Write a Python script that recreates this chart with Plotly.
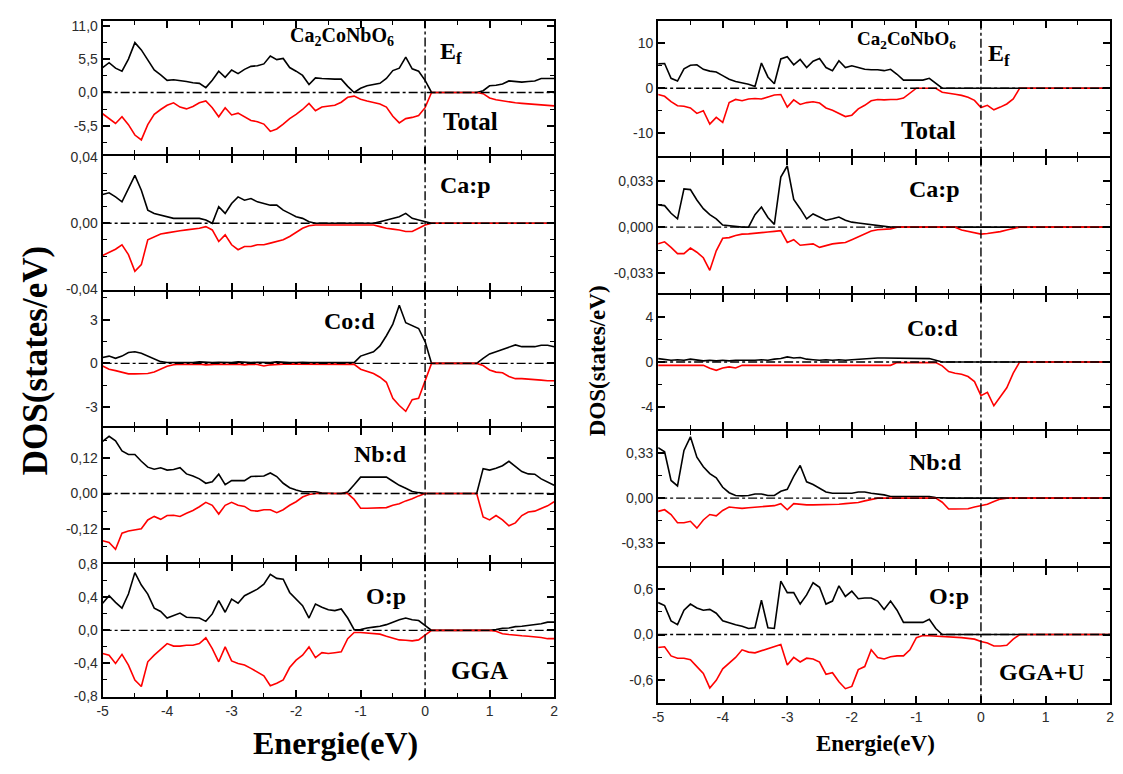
import plotly.graph_objects as go

W, H = 1123, 774

# Energy grid (eV) shared by all projected DOS curves
energy = [round(-5 + 0.1 * i, 1) for i in range(71)]

# ---------------- GGA ----------------
gga_total_up = [4.1, 4.9, 4.0, 3.5, 5.5, 8.2, 7.0, 5.4, 3.7, 2.9,
                2.0, 2.1, 2.0, 1.8, 1.6, 1.5, 0.8, 2.0, 3.5, 2.5,
                3.7, 3.1, 3.8, 4.3, 4.4, 4.7, 6.0, 5.4, 5.6, 4.1,
                3.5, 2.8, 1.3, 2.4, 2.3, 2.2, 2.2, 2.2, 1.0, 0.0,
                0.7, 1.1, 1.3, 1.5, 2.3, 3.6, 4.0, 5.8, 3.9, 3.5,
                2.0, 0, 0, 0, 0, 0, 0, 0, 0, 0.3,
                1.1, 1.2, 1.4, 1.9, 1.8, 1.7, 1.8, 1.9, 2.3, 2.3,
                2.3]
gga_total_dn = [-3.5, -4.3, -5.1, -4.0, -5.3, -7.0, -7.8, -5.3, -3.6, -2.8,
                -2.1, -1.7, -2.4, -2.7, -2.3, -1.7, -1.4, -2.5, -4.0, -2.5,
                -3.7, -3.4, -4.0, -4.6, -4.8, -5.2, -6.4, -6.0, -5.2, -4.3,
                -3.6, -2.8, -1.8, -3.0, -2.4, -2.3, -2.1, -1.6, -0.8, -0.6,
                -1.1, -1.4, -1.6, -1.9, -2.4, -3.9, -5.0, -4.3, -4.1, -3.8,
                -2.5, 0, 0, 0, 0, 0, 0, 0, 0, -0.2,
                -0.9, -1.2, -1.4, -1.6, -1.7, -1.8, -1.9, -2.0, -2.1, -2.1,
                -2.2]
gga_cap_up = [0.0175, 0.0185, 0.016, 0.013, 0.021, 0.029, 0.020, 0.008, 0.006, 0.005,
              0.004, 0.003, 0.003, 0.003, 0.003, 0.003, 0.002, 0.0, 0.010, 0.006,
              0.012, 0.016, 0.014, 0.015, 0.013, 0.012, 0.011, 0.011, 0.008, 0.006,
              0.004, 0.003, 0.001, 0, 0, 0, 0, 0, 0, 0,
              0, 0, 0, 0.001, 0.002, 0.003, 0.004, 0.006, 0.003, 0.002,
              0.001, 0, 0, 0, 0, 0, 0, 0, 0, 0,
              0, 0, 0, 0, 0, 0, 0, 0, 0, 0,
              0]
gga_cap_dn = [-0.0195, -0.0175, -0.0157, -0.013, -0.019, -0.029, -0.025, -0.010, -0.008, -0.0065,
              -0.0058, -0.005, -0.0045, -0.004, -0.0035, -0.003, -0.002, -0.004, -0.011, -0.007,
              -0.013, -0.016, -0.014, -0.014, -0.013, -0.013, -0.012, -0.011, -0.010, -0.008,
              -0.0055, -0.003, -0.0015, -0.001, -0.001, -0.001, -0.001, -0.001, -0.001, -0.001,
              -0.001, -0.001, -0.001, -0.002, -0.003, -0.0035, -0.004, -0.005, -0.005, -0.003,
              -0.001, 0, 0, 0, 0, 0, 0, 0, 0, 0,
              0, 0, 0, 0, 0, 0, 0, 0, 0, 0,
              0]
gga_cod_up = [0.4, 0.5, 0.35, 0.5, 0.75, 0.8, 0.7, 0.5, 0.3, 0.12,
              0.06, 0.05, 0.08, 0.05, 0.05, 0.1, 0.05, 0.05, 0.08, 0.05,
              0.05, 0.1, 0.05, 0.05, 0.08, 0.05, 0.05, 0.1, 0.05, 0.05,
              0.05, 0.08, 0.05, 0.05, 0.05, 0.08, 0.05, 0.05, 0.05, 0.05,
              0.5, 0.65, 0.8, 1.2, 1.9, 2.7, 4.0, 2.8, 2.6, 2.4,
              1.5, 0, 0, 0, 0, 0, 0, 0, 0, 0.35,
              0.65, 0.8, 0.95, 1.15, 1.27, 1.15, 1.15, 1.15, 1.25, 1.25,
              1.15]
gga_cod_dn = [-0.18, -0.4, -0.5, -0.6, -0.72, -0.72, -0.7, -0.7, -0.6, -0.4,
              -0.2, -0.1, -0.05, -0.08, -0.05, -0.05, -0.1, -0.05, -0.05, -0.08,
              -0.05, -0.05, -0.1, -0.05, -0.08, -0.18, -0.1, -0.05, -0.05, -0.05,
              -0.05, -0.08, -0.05, -0.05, -0.05, -0.05, -0.05, -0.05, -0.05, -0.07,
              -0.4, -0.55, -0.7, -0.95, -1.3, -2.4, -2.9, -3.3, -2.5, -2.4,
              -1.2, 0, 0, 0, 0, 0, 0, 0, 0, -0.15,
              -0.45, -0.6, -0.65, -0.9, -1.05, -1.05, -1.07, -1.1, -1.15, -1.2,
              -1.2]
gga_nbd_up = [0.178, 0.195, 0.18, 0.145, 0.133, 0.133, 0.11, 0.09, 0.083, 0.088,
              0.08, 0.082, 0.088, 0.067, 0.06, 0.05, 0.035, 0.04, 0.066, 0.03,
              0.044, 0.044, 0.044, 0.058, 0.058, 0.06, 0.07, 0.058, 0.035, 0.02,
              0.012, 0.006, 0.006, 0.006, 0.002, 0, 0, 0, 0.005, 0.03,
              0.056, 0.056, 0.056, 0.056, 0.056, 0.042, 0.028, 0.018, 0.007, 0.003,
              0, 0, 0, 0, 0, 0, 0, 0, 0, 0.085,
              0.08, 0.086, 0.095, 0.11, 0.094, 0.075, 0.067, 0.066, 0.05, 0.04,
              0.028]
gga_nbd_dn = [-0.161, -0.167, -0.19, -0.135, -0.128, -0.125, -0.12, -0.09, -0.078, -0.088,
              -0.075, -0.074, -0.078, -0.067, -0.058, -0.045, -0.03, -0.04, -0.07, -0.04,
              -0.03, -0.04, -0.044, -0.058, -0.06, -0.055, -0.055, -0.065, -0.055, -0.04,
              -0.028, -0.012, -0.003, 0, 0, 0, 0, 0, 0, -0.02,
              -0.05, -0.05, -0.05, -0.05, -0.048, -0.04, -0.035, -0.025, -0.018, -0.008,
              0, 0, 0, 0, 0, 0, 0, 0, 0, -0.08,
              -0.09, -0.075, -0.09, -0.11, -0.1, -0.075, -0.063, -0.06, -0.05, -0.042,
              -0.028]
gga_op_up = [0.33, 0.42, 0.34, 0.27, 0.44, 0.70, 0.55, 0.44, 0.27, 0.23,
             0.15, 0.18, 0.21, 0.16, 0.155, 0.15, 0.11, 0.2, 0.36, 0.22,
             0.38, 0.33, 0.42, 0.46, 0.50, 0.56, 0.68, 0.63, 0.62, 0.46,
             0.38, 0.3, 0.15, 0.32, 0.28, 0.25, 0.24, 0.26, 0.15, 0.008,
             0.01, 0.03, 0.04, 0.05, 0.07, 0.1, 0.13, 0.15, 0.13, 0.12,
             0.06, 0, 0, 0, 0, 0, 0, 0, 0, 0,
             0, 0.01, 0.027, 0.03, 0.046, 0.05, 0.06, 0.065, 0.08, 0.1,
             0.1]
gga_op_dn = [-0.28, -0.3, -0.4, -0.29, -0.42, -0.6, -0.68, -0.38, -0.3, -0.23,
             -0.16, -0.19, -0.19, -0.18, -0.18, -0.16, -0.09, -0.22, -0.38, -0.2,
             -0.37, -0.4, -0.42, -0.46, -0.5, -0.55, -0.67, -0.64, -0.6, -0.45,
             -0.36, -0.3, -0.2, -0.33, -0.27, -0.28, -0.27, -0.26, -0.1, -0.025,
             -0.025, -0.03, -0.035, -0.045, -0.07, -0.09, -0.115, -0.12, -0.127, -0.115,
             -0.06, 0, 0, 0, 0, 0, 0, 0, 0, 0,
             0, -0.01, -0.04, -0.05, -0.06, -0.065, -0.07, -0.077, -0.085, -0.1,
             -0.1]

# ---------------- GGA+U ----------------
ggau_total_up = [5.4, 5.5, 2.2, 1.6, 4.3, 5.1, 5.2, 4.2, 3.8, 3.6,
                 2.8, 2.0, 1.5, 1.2, 0.9, 0.4, 5.6, 2.5, 1.0, 6.5,
                 7.0, 5.2, 6.4, 4.6, 6.0, 6.6, 4.6, 3.9, 6.1, 4.6,
                 5.0, 4.6, 4.2, 4.1, 4.1, 3.9, 4.2, 3.1, 1.8, 1.8,
                 1.8, 1.8, 2.2, 1.2, 0, 0, 0, 0, 0, 0,
                 0, 0, 0, 0, 0, 0, 0, 0, 0, 0,
                 0, 0, 0, 0, 0, 0, 0, 0, 0, 0,
                 0]
ggau_total_dn = [-1.4, -1.8, -3.0, -3.9, -4.0, -4.4, -5.6, -5.0, -8.0, -6.5,
                 -7.6, -3.2, -2.5, -2.8, -2.4, -2.3, -2.4, -2.0, -1.5, -1.4,
                 -4.2, -2.6, -3.6, -3.2, -3.0, -3.3, -4.4, -4.9, -5.6, -6.3,
                 -6.0, -4.6, -3.8, -2.8, -2.5, -2.6, -2.5, -2.5, -2.2, -1.2,
                 0, 0, 0, 0, -0.9, -1.2, -1.35, -1.6, -2.0, -2.7,
                 -4.3, -3.8, -4.8, -4.2, -3.5, -2.4, 0, 0, 0, 0,
                 0, 0, 0, 0, 0, 0, 0, 0, 0, 0,
                 0]
ggau_cap_up = [0.016, 0.0155, 0.01, 0.006, 0.0275, 0.027, 0.0195, 0.0133, 0.009, 0.006,
               0.0015, 0.001, 0, 0, 0, 0.009, 0.0145, 0.007, 0.002, 0.036,
               0.044, 0.02, 0.0133, 0.006, 0.0095, 0.0075, 0.005, 0.006, 0.0073, 0.005,
               0.0036, 0.003, 0.0024, 0.0015, 0.001, 0.0005, 0, 0, 0, 0,
               0, 0, 0, 0, 0, 0, 0, 0, 0, 0,
               0, 0, 0, 0, 0, 0, 0, 0, 0, 0,
               0, 0, 0, 0, 0, 0, 0, 0, 0, 0,
               0]
ggau_cap_dn = [-0.012, -0.0105, -0.0145, -0.019, -0.019, -0.015, -0.018, -0.022, -0.031, -0.017,
               -0.008, -0.0075, -0.006, -0.005, -0.0048, -0.0045, -0.004, -0.0035, -0.003, -0.0025,
               -0.011, -0.009, -0.013, -0.0125, -0.012, -0.0145, -0.013, -0.012, -0.0115, -0.011,
               -0.009, -0.007, -0.0045, -0.0028, -0.0018, -0.0014, -0.0012, 0, 0, 0,
               0, 0, 0, 0, 0, 0, 0, -0.002, -0.003, -0.004,
               -0.005, -0.0045, -0.004, -0.0032, -0.002, -0.001, 0, 0, 0, 0,
               0, 0, 0, 0, 0, 0, 0, 0, 0, 0,
               0]
ggau_cod_up = [0.3, 0.25, 0.15, 0.2, 0.15, 0.25, 0.15, 0.1, 0.15, 0.1,
               0.15, 0.1, 0.15, 0.15, 0.1, 0.15, 0.2, 0.15, 0.25, 0.3,
               0.45, 0.35, 0.4, 0.25, 0.2, 0.15, 0.2, 0.15, 0.2, 0.15,
               0.2, 0.25, 0.3, 0.3, 0.35, 0.35, 0.35, 0.35, 0.35, 0.35,
               0.35, 0.35, 0.3, 0.15, 0, 0, 0, 0, 0, 0,
               0, 0, 0, 0, 0, 0, 0, 0, 0, 0,
               0, 0, 0, 0, 0, 0, 0, 0, 0, 0,
               0]
ggau_cod_dn = [-0.3, -0.3, -0.3, -0.3, -0.3, -0.3, -0.3, -0.3, -0.55, -0.74,
               -0.53, -0.44, -0.53, -0.3, -0.3, -0.3, -0.3, -0.3, -0.3, -0.3,
               -0.3, -0.3, -0.3, -0.3, -0.3, -0.3, -0.3, -0.3, -0.3, -0.3,
               -0.3, -0.3, -0.3, -0.3, -0.3, -0.3, -0.3, -0.06, -0.06, -0.06,
               -0.06, -0.06, -0.06, -0.06, -0.35, -0.85, -1.0, -1.1, -1.3, -1.75,
               -3.0, -2.7, -3.9, -3.1, -2.3, -1.0, 0, 0, 0, 0,
               0, 0, 0, 0, 0, 0, 0, 0, 0, 0,
               0]
ggau_nbd_up = [0.37, 0.34, 0.13, 0.09, 0.35, 0.45, 0.3, 0.23, 0.18, 0.15,
               0.08, 0.04, 0.02, 0.017, 0.02, 0.03, 0.03, 0.02, 0.02, 0.05,
               0.065, 0.16, 0.24, 0.12, 0.1, 0.07, 0.045, 0.036, 0.036, 0.036,
               0.036, 0.045, 0.045, 0.036, 0.03, 0.024, 0.012, 0.012, 0.012, 0.012,
               0.012, 0.012, 0.012, 0.005, 0, 0, 0, 0, 0, 0,
               0, 0, 0, 0, 0, 0, 0, 0, 0, 0,
               0, 0, 0, 0, 0, 0, 0, 0, 0, 0,
               0]
ggau_nbd_dn = [-0.097, -0.085, -0.12, -0.18, -0.18, -0.17, -0.22, -0.16, -0.12, -0.13,
               -0.09, -0.065, -0.07, -0.075, -0.07, -0.065, -0.06, -0.058, -0.055, -0.04,
               -0.085, -0.04, -0.045, -0.049, -0.049, -0.049, -0.049, -0.049, -0.045, -0.04,
               -0.036, -0.032, -0.02, -0.01, 0, 0, 0, 0, 0, 0,
               0, 0, 0, 0, -0.03, -0.08, -0.08, -0.08, -0.078, -0.065,
               -0.055, -0.045, -0.024, -0.007, 0, 0, 0, 0, 0, 0,
               0, 0, 0, 0, 0, 0, 0, 0, 0, 0,
               0]
ggau_op_up = [0.42, 0.38, 0.18, 0.13, 0.32, 0.4, 0.35, 0.32, 0.33, 0.28,
              0.18, 0.15, 0.13, 0.11, 0.08, 0.09, 0.45, 0.09, 0.08, 0.7,
              0.55, 0.55, 0.4, 0.52, 0.68, 0.62, 0.4, 0.44, 0.64, 0.5,
              0.57, 0.47, 0.48, 0.48, 0.44, 0.33, 0.44, 0.32, 0.16, 0.16,
              0.16, 0.16, 0.2, 0.08, 0, 0, 0, 0, 0, 0,
              0, 0, 0, 0, 0, 0, 0, 0, 0, 0,
              0, 0, 0, 0, 0, 0, 0, 0, 0, 0,
              0]
ggau_op_dn = [-0.17, -0.16, -0.28, -0.31, -0.31, -0.33, -0.42, -0.51, -0.7, -0.6,
              -0.45, -0.38, -0.3, -0.2, -0.23, -0.24, -0.21, -0.19, -0.16, -0.13,
              -0.4, -0.3, -0.36, -0.31, -0.32, -0.36, -0.52, -0.5, -0.62, -0.71,
              -0.68, -0.46, -0.42, -0.2, -0.3, -0.32, -0.29, -0.28, -0.28, -0.2,
              -0.04, -0.013, -0.015, -0.02, -0.022, -0.026, -0.03, -0.04, -0.05, -0.06,
              -0.09, -0.11, -0.15, -0.15, -0.14, -0.06, 0, 0, 0, 0,
              0, 0, 0, 0, 0, 0, 0, 0, 0, 0,
              0]

x_ticks = [-5, -4, -3, -2, -1, 0, 1, 2]

# Axis settings per panel (top to bottom): y range, major ticks, decimals
gga_panels = [
    dict(up=gga_total_up, dn=gga_total_dn, rng=[-10.2, 11.8], ticks=[-5.5, 0.0, 5.5, 11.0], dec=1, minor=2.75),
    dict(up=gga_cap_up, dn=gga_cap_dn, rng=[-0.0405, 0.0405], ticks=[-0.04, 0.0, 0.04], dec=2, minor=0.01),
    dict(up=gga_cod_up, dn=gga_cod_dn, rng=[-4.3, 4.9], ticks=[-3, 0, 3], dec=0, minor=1.5),
    dict(up=gga_nbd_up, dn=gga_nbd_dn, rng=[-0.232, 0.224], ticks=[-0.12, 0.0, 0.12], dec=2, minor=0.06),
    dict(up=gga_op_up, dn=gga_op_dn, rng=[-0.81, 0.81], ticks=[-0.8, -0.4, 0.0, 0.4, 0.8], dec=1, minor=0.2),
]
ggau_panels = [
    dict(up=ggau_total_up, dn=ggau_total_dn, rng=[-15, 15], ticks=[-10, 0, 10], dec=0, minor=5),
    dict(up=ggau_cap_up, dn=ggau_cap_dn, rng=[-0.047, 0.05], ticks=[-0.033, 0.0, 0.033], dec=3, minor=0.0165),
    dict(up=ggau_cod_up, dn=ggau_cod_dn, rng=[-6.0, 6.0], ticks=[-4, 0, 4], dec=0, minor=2),
    dict(up=ggau_nbd_up, dn=ggau_nbd_dn, rng=[-0.5, 0.49], ticks=[-0.33, 0.0, 0.33], dec=2, minor=0.165),
    dict(up=ggau_op_up, dn=ggau_op_dn, rng=[-0.9, 0.87], ticks=[-0.6, 0.0, 0.6], dec=1, minor=0.3),
]

# Column frames in pixels: left, right, top, bottom
columns = [
    dict(panels=gga_panels, x0=97.5, x1=553.0, y0=14.0, y1=703.0),
    dict(panels=ggau_panels, x0=658.0, x1=1114.0, y0=14.0, y1=709.0),
]

AXIS_W = 2  # frame line width; stacked panels leave this gap so borders coincide


def fmt(v, dec):
    s = f"{v:.{dec}f}"
    return s.replace(".", ",")


fig = go.Figure()
layout = dict(shapes=[], annotations=[])
tick_font = dict(family="Liberation Sans", size=14, color="#2b2b2b")

idx = 0
for col in columns:
    n = len(col["panels"])
    ph = (col["y1"] - col["y0"] - AXIS_W * (n - 1)) / n
    for k, p in enumerate(col["panels"]):
        idx += 1
        sfx = "" if idx == 1 else str(idx)
        xa, ya = "x" + sfx, "y" + sfx
        top = col["y0"] + k * (ph + AXIS_W)
        bot = top + ph
        last = (k == n - 1)
        layout["xaxis" + sfx] = dict(
            domain=[col["x0"] / W, col["x1"] / W], anchor=ya, range=[-5, 2],
            tickvals=x_ticks, ticktext=[str(v) for v in x_ticks],
            showticklabels=last, tickfont=tick_font,
            ticks="inside", ticklen=7, tickwidth=1.5, tickcolor="black",
            minor=dict(ticks="inside", dtick=0.5, ticklen=4, tickwidth=1.2, tickcolor="black", showgrid=False),
            showline=True, linewidth=AXIS_W, linecolor="black", mirror="ticks",
            showgrid=False, zeroline=False, fixedrange=True,
        )
        layout["yaxis" + sfx] = dict(
            domain=[1 - bot / H, 1 - top / H], anchor=xa, range=p["rng"],
            tickvals=p["ticks"], ticktext=[fmt(v, p["dec"]) for v in p["ticks"]],
            tickfont=tick_font, ticks="inside", ticklen=7, tickwidth=1.5, tickcolor="black",
            minor=dict(ticks="inside", dtick=p["minor"], tick0=0, ticklen=4, tickwidth=1.2,
                       tickcolor="black", showgrid=False),
            showline=True, linewidth=AXIS_W, linecolor="black", mirror="ticks",
            showgrid=False, zeroline=False, fixedrange=True,
        )
        fig.add_trace(go.Scatter(x=energy, y=p["up"], mode="lines", xaxis=xa, yaxis=ya,
                                 line=dict(color="black", width=1.6), showlegend=False))
        fig.add_trace(go.Scatter(x=energy, y=p["dn"], mode="lines", xaxis=xa, yaxis=ya,
                                 line=dict(color="#ff0000", width=1.6), showlegend=False))
        # zero line and Fermi level
        layout["shapes"].append(dict(type="line", xref=xa + " domain", yref=ya, x0=0, x1=1, y0=0, y1=0,
                                     line=dict(color="black", width=1.4, dash="dashdot")))
        layout["shapes"].append(dict(type="line", xref=xa, yref=ya + " domain", x0=0, x1=0, y0=0, y1=1,
                                     line=dict(color="black", width=1.4, dash="dashdot")))


def label(text, x, y, size, angle=0):
    layout["annotations"].append(dict(
        text=text, x=x / W, y=1 - y / H, xref="paper", yref="paper",
        xanchor="center", yanchor="middle", showarrow=False, textangle=angle,
        font=dict(family="Liberation Serif", size=size, color="black")))


# GGA column labels
label("<b>Ca<sub>2</sub>CoNbO<sub>6</sub></b>", 339, 30, 20)
label("<b>E<sub>f</sub></b>", 449, 47, 24)
label("<b>Total</b>", 469, 117, 25)
label("<b>Ca:p</b>", 464, 181, 24)
label("<b>Co:d</b>", 347, 320, 24)
label("<b>Nb:d</b>", 378, 455, 24)
label("<b>O:p</b>", 383, 600, 24)
label("<b>GGA</b>", 478, 676, 25)
label("<b>DOS(states/eV)</b>", 30, 360, 35, angle=-90)
label("<b>Energie(eV)</b>", 332, 750, 32)

# GGA+U column labels
label("<b>Ca<sub>2</sub>CoNbO<sub>6</sub></b>", 909, 34, 19)
label("<b>E<sub>f</sub></b>", 1002, 49, 24)
label("<b>Total</b>", 931, 126, 25)
label("<b>Ca:p</b>", 937, 185, 24)
label("<b>Co:d</b>", 935, 327, 24)
label("<b>Nb:d</b>", 938, 463, 24)
label("<b>O:p</b>", 951, 600, 24)
label("<b>GGA+U</b>", 1045, 677, 24)
label("<b>DOS(states/eV)</b>", 597, 360, 23, angle=-90)
label("<b>Energie(eV)</b>", 877, 750, 23)

fig.update_layout(
    width=W, height=H, margin=dict(l=0, r=0, t=0, b=0),
    paper_bgcolor="white", plot_bgcolor="white", showlegend=False,
    **layout,
)

fig.write_html("out.html")
